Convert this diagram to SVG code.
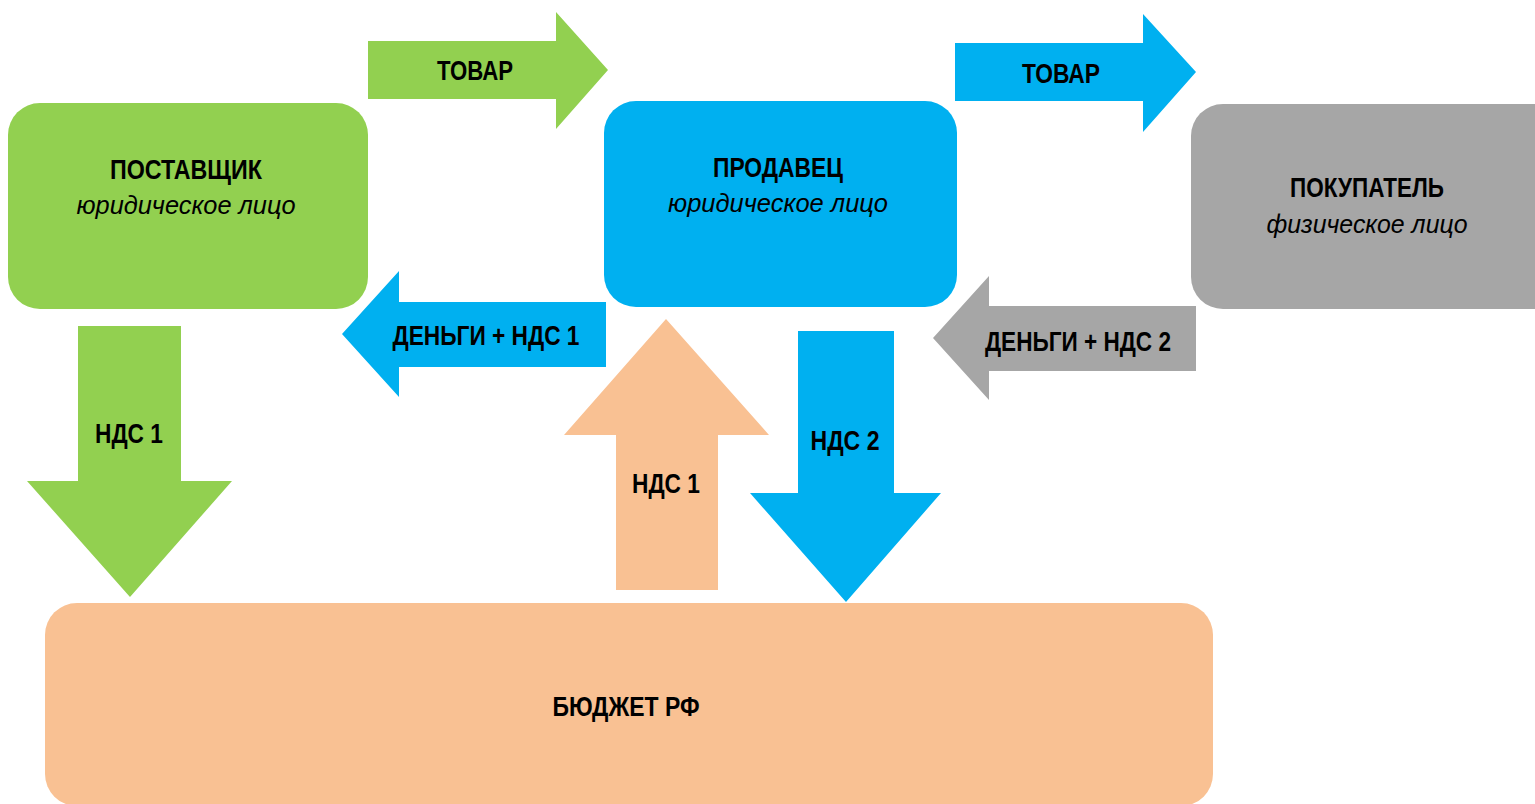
<svg xmlns="http://www.w3.org/2000/svg" width="1535" height="804" viewBox="0 0 1535 804">
<style>
.t{font-family:"Liberation Sans",Arial,sans-serif;font-weight:bold;font-size:27px;fill:#000;text-anchor:middle}
.i{font-family:"Liberation Sans",Arial,sans-serif;font-style:italic;font-size:26px;fill:#000;text-anchor:middle}
.g{fill:#92D050}.b{fill:#00B0F0}.gr{fill:#A6A6A6}.p{fill:#F9C193}
</style>
<rect width="1535" height="804" fill="#fff"/>
<g id="connectors">
<g id="a-tovar1"><polygon class="g" points="368,41 556,41 556,12 608,70 556,129 556,99 368,99"/><text class="t" x="475" y="80" textLength="76" lengthAdjust="spacingAndGlyphs">ТОВАР</text></g>
<g id="a-tovar2"><polygon class="b" points="955,43 1143,43 1143,14 1196,72 1143,132 1143,101 955,101"/><text class="t" x="1061" y="83" textLength="78" lengthAdjust="spacingAndGlyphs">ТОВАР</text></g>
<g id="a-money1"><polygon class="b" points="606,302 399,302 399,271 342,334 399,397 399,367 606,367"/><text class="t" x="486" y="345" textLength="187" lengthAdjust="spacingAndGlyphs">ДЕНЬГИ + НДС 1</text></g>
<g id="a-money2"><polygon class="gr" points="1196,306 989,306 989,276 933,338 989,400 989,371 1196,371"/><text class="t" x="1078" y="351" textLength="186" lengthAdjust="spacingAndGlyphs">ДЕНЬГИ + НДС 2</text></g>
<g id="a-nds1-down"><polygon class="g" points="78,326 181,326 181,481 232,481 130,597 27,481 78,481"/><text class="t" x="129" y="443" textLength="68" lengthAdjust="spacingAndGlyphs">НДС 1</text></g>
<g id="a-nds1-up"><polygon class="p" points="616,590 718,590 718,435 769,435 666,319 564,435 616,435"/><text class="t" x="666" y="493" textLength="68" lengthAdjust="spacingAndGlyphs">НДС 1</text></g>
<g id="a-nds2-down"><polygon class="b" points="798,331 894,331 894,493 941,493 846,602 750,493 798,493"/><text class="t" x="845" y="450" textLength="69" lengthAdjust="spacingAndGlyphs">НДС 2</text></g>
</g>
<g id="supplier"><rect class="g" x="8" y="103" width="360" height="206" rx="32"/><text class="t" x="186" y="179" textLength="152" lengthAdjust="spacingAndGlyphs">ПОСТАВЩИК</text><text class="i" x="186" y="214" textLength="219" lengthAdjust="spacingAndGlyphs">юридическое лицо</text></g>
<g id="seller"><rect class="b" x="604" y="101" width="353" height="206" rx="32"/><text class="t" x="778" y="177" textLength="130" lengthAdjust="spacingAndGlyphs">ПРОДАВЕЦ</text><text class="i" x="778" y="212" textLength="220" lengthAdjust="spacingAndGlyphs">юридическое лицо</text></g>
<g id="buyer"><rect class="gr" x="1191" y="104" width="380" height="205" rx="32"/><text class="t" x="1367" y="197" textLength="154" lengthAdjust="spacingAndGlyphs">ПОКУПАТЕЛЬ</text><text class="i" x="1367" y="233" textLength="201" lengthAdjust="spacingAndGlyphs">физическое лицо</text></g>
<g id="budget"><rect class="p" x="45" y="603" width="1168" height="203" rx="32"/><text class="t" x="626" y="716" textLength="147" lengthAdjust="spacingAndGlyphs">БЮДЖЕТ РФ</text></g>
</svg>
